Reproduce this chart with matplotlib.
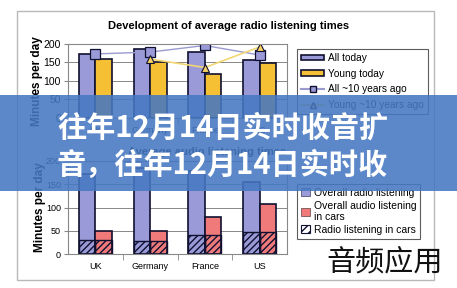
import matplotlib
matplotlib.use("Agg")
import matplotlib.pyplot as plt
from matplotlib.patches import Rectangle, Patch
from matplotlib.lines import Line2D
import numpy as np

W, H = 457, 288

# --- data ---
countries = ["UK", "Germany", "France", "US"]

# top chart: development of average radio listening times (minutes/day)
all_today = [172, 186, 177, 157]
young_today = [159, 150, 119, 148]
all_10y = [173, 178, 196, 170]
young_10y = [np.nan, 159, 136, 192]

# bottom chart: average audio listening times (minutes/day)
overall_radio = [171, 186, 178, 155]
audio_in_cars = [50, 50, 79, 108]
radio_in_cars = [30, 29, 40, 48]

banner_line1 = "往年12月14日实时收音扩"
banner_line2 = "音，往年12月14日实时收"
watermark = "音频应用"

# colours
PURPLE = "#9a9ad8"
YELLOW = "#f6c035"
RED = "#f07a7a"
EDGE = "#101030"

plt.rcParams["font.family"] = ["Liberation Sans", "DejaVu Sans"]
plt.rcParams["hatch.linewidth"] = 1.0


def px_box(x0, y0, x1, y1):
    # pixel box (top-left origin) -> figure fraction [l, b, w, h]
    return [x0 / W, 1 - y1 / H, (x1 - x0) / W, (y1 - y0) / H]


def style_axes(ax, ysize):
    ax.set_xlim(-0.5, 3.5)
    ax.set_ylim(0, 200)
    ax.set_yticks([0, 50, 100, 150, 200])
    ax.grid(axis="y", color="#888888", linewidth=0.7)
    ax.set_axisbelow(True)
    for s in ax.spines.values():
        s.set_color("#888888")
        s.set_linewidth(0.8)
    ax.set_xticks(range(len(countries)))
    ax.set_xticklabels(countries, fontsize=6.5)
    ax.set_xticks([0.5, 1.5, 2.5], minor=True)
    ax.tick_params(axis="x", which="major", length=0, pad=6)
    ax.tick_params(axis="x", which="minor", length=4, color="#888888")
    ax.tick_params(axis="y", length=3, color="#888888", labelsize=ysize, pad=2)


fig = plt.figure(figsize=(W / 100, H / 100), dpi=100)

# outer frame
fig.patches.append(Rectangle((17 / W, 1 - 280 / H), 417 / W, 269 / H, fill=False,
                             edgecolor="#b8b8b8", linewidth=1, transform=fig.transFigure))

x = np.arange(len(countries))
bw = 0.3

# --- top chart ---
ax1 = fig.add_axes(px_box(68, 44, 287, 117.5))
style_axes(ax1, 7.5)
ax1.bar(x - bw / 2, all_today, bw, color=PURPLE, edgecolor=EDGE, linewidth=1.2)
ax1.bar(x + bw / 2, young_today, bw, color=YELLOW, edgecolor=EDGE, linewidth=1.2)
ax1.plot(x, all_10y, color="#9a9ad0", linewidth=1, marker="s", markersize=6.5,
         markerfacecolor="#9a9ad8", markeredgecolor=EDGE, markeredgewidth=0.9)
ax1.plot(x, young_10y, color="#f3d774", linewidth=1.2, marker="^", markersize=6,
         markerfacecolor="#f6d060", markeredgecolor=EDGE, markeredgewidth=0.8)

fig.text(229 / W, 1 - 26 / H, "Development of average radio listening times",
         fontsize=8, fontweight="bold", ha="center", va="center")
fig.text(37 / W, 1 - 81 / H, "Minutes per day", fontsize=8.5, fontweight="bold",
         rotation=90, ha="center", va="center")

h1 = [Patch(facecolor=PURPLE, edgecolor=EDGE, linewidth=1.2),
      Patch(facecolor=YELLOW, edgecolor=EDGE, linewidth=1.2),
      Line2D([], [], color="#9a9ad0", marker="s", markersize=5,
             markerfacecolor="#9a9ad8", markeredgecolor=EDGE),
      Line2D([], [], color="#f3d774", marker="^", markersize=5,
             markerfacecolor="#f6d060", markeredgecolor=EDGE)]
leg1 = fig.legend(h1, ["All today", "Young today", "All ~10 years ago", "Young ~10 years ago"],
                  loc="upper left", bbox_to_anchor=(297 / W, 1 - 49 / H),
                  fontsize=7.3, frameon=True, fancybox=False, edgecolor="#333333",
                  handlelength=2.3, handleheight=0.5, labelspacing=0.55,
                  borderpad=0.4, handletextpad=0.4, borderaxespad=0)
leg1.get_frame().set_linewidth(0.8)

# --- bottom chart ---
ax2 = fig.add_axes(px_box(68, 161, 287, 254))
style_axes(ax2, 6.5)
ax2.bar(x - bw / 2, overall_radio, bw, color=PURPLE, edgecolor=EDGE, linewidth=1.2)
ax2.bar(x + bw / 2, audio_in_cars, bw, color=RED, edgecolor=EDGE, linewidth=1.2)
ax2.bar(x - bw / 2, radio_in_cars, bw, facecolor="none", edgecolor=EDGE,
        hatch="/////", linewidth=1.0)
ax2.bar(x + bw / 2, radio_in_cars, bw, facecolor="none", edgecolor=EDGE,
        hatch="/////", linewidth=1.0)

fig.text(207 / W, 1 - 152 / H, "Average audio listening times",
         fontsize=8, fontweight="bold", ha="center", va="center")
fig.text(40 / W, 1 - 207 / H, "Minutes per day", fontsize=8.5, fontweight="bold",
         rotation=90, ha="center", va="center")

h2 = [Patch(facecolor=PURPLE, edgecolor="#555577", linewidth=0.6),
      Patch(facecolor=RED, edgecolor="#775555", linewidth=0.6),
      Patch(facecolor="white", edgecolor=EDGE, hatch="////", linewidth=0.8)]
leg2 = fig.legend(h2, ["Overall radio listening", "Overall audio listening\nin cars",
                       "Radio listening in cars"],
                  loc="lower left", bbox_to_anchor=(297 / W, 1 - 239 / H),
                  fontsize=7.5, frameon=True, fancybox=False, edgecolor="#333333",
                  handlelength=0.8, handleheight=0.8, labelspacing=0.25,
                  borderpad=0.4, handletextpad=0.4, borderaxespad=0)
leg2.get_frame().set_linewidth(0.8)

# --- banner overlay ---
fig.patches.append(Rectangle((0, 1 - 191 / H), 1, 96 / H, facecolor=(0.27, 0.47, 0.76),
                             alpha=0.88, edgecolor="none", transform=fig.transFigure,
                             zorder=10))
fig.text(57 / W, 1 - 128 / H, banner_line1, color="white", fontsize=21, fontweight="bold",
         family=["Noto Sans CJK SC", "DejaVu Sans"], ha="left", va="center", zorder=11)
fig.text(57 / W, 1 - 165 / H, banner_line2, color="white", fontsize=21, fontweight="bold",
         family=["Noto Sans CJK SC", "DejaVu Sans"], ha="left", va="center", zorder=11)

fig.text(385 / W, 1 - 262 / H, watermark, color="#111111", fontsize=21,
         family=["Noto Sans CJK SC", "DejaVu Sans"], ha="center", va="center", zorder=11)

fig.savefig("out.png", dpi=100)
